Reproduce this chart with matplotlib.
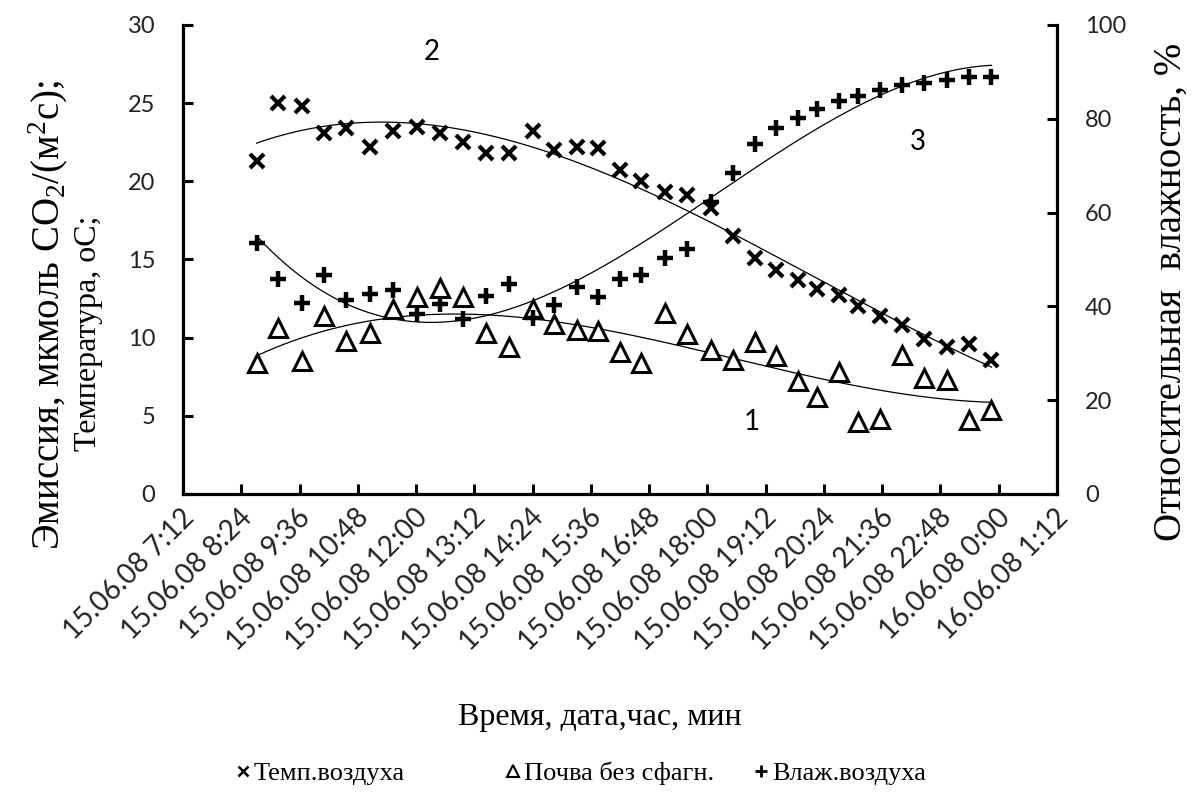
import numpy as np
import pandas as pd
import matplotlib
matplotlib.use("Agg")
import matplotlib.pyplot as plt
import matplotlib.dates as mdates
from matplotlib.lines import Line2D
from matplotlib.transforms import ScaledTranslation

plt.rcParams["mathtext.fontset"] = "custom"
plt.rcParams["mathtext.rm"] = "Liberation Serif"
plt.rcParams["mathtext.it"] = "Liberation Serif:italic"

# Measurement times (date, hour:minute)
times = [
    "15.06.08 8:43", "15.06.08 9:10", "15.06.08 9:39", "15.06.08 10:06",
    "15.06.08 10:33", "15.06.08 11:03", "15.06.08 11:32", "15.06.08 12:01",
    "15.06.08 12:29", "15.06.08 12:58", "15.06.08 13:26", "15.06.08 13:55",
    "15.06.08 14:24", "15.06.08 14:51", "15.06.08 15:19", "15.06.08 15:45",
    "15.06.08 16:12", "15.06.08 16:38", "15.06.08 17:07", "15.06.08 17:35",
    "15.06.08 18:04", "15.06.08 18:32", "15.06.08 18:59", "15.06.08 19:25",
    "15.06.08 19:52", "15.06.08 20:16", "15.06.08 20:42", "15.06.08 21:06",
    "15.06.08 21:33", "15.06.08 22:01", "15.06.08 22:28", "15.06.08 22:56",
    "15.06.08 23:23", "15.06.08 23:51",
]

# Air temperature, oC
temp_air = [
    21.3, 25.0, 24.8, 23.1, 23.4, 22.2, 23.2, 23.5, 23.1, 22.5,
    21.8, 21.8, 23.2, 22.0, 22.2, 22.1, 20.7, 20.0, 19.3, 19.1,
    18.3, 16.5, 15.1, 14.3, 13.7, 13.1, 12.7, 12.0, 11.4, 10.8,
    9.9, 9.4, 9.6, 8.6,
]

# CO2 emission from soil without sphagnum, umol CO2/(m2 s)
soil_flux = [
    8.4, 10.6, 8.5, 11.4, 9.8, 10.3, 11.8, 12.6, 13.2, 12.6,
    10.3, 9.4, 11.85, 10.85, 10.5, 10.4, 9.1, 8.4, 11.6, 10.25,
    9.2, 8.55, 9.7, 8.8, 7.2, 6.2, 7.8, 4.6, 4.8, 8.9,
    7.4, 7.3, 4.7, 5.4,
]

# Relative air humidity, %
humidity = [
    53.5, 45.9, 40.8, 46.7, 41.4, 42.7, 43.4, 38.4, 40.6, 37.4,
    42.3, 44.8, 37.6, 40.2, 44.1, 42.0, 45.9, 46.6, 50.4, 52.3,
    62.2, 68.4, 74.6, 78.1, 80.1, 82.1, 83.8, 84.9, 86.1, 87.2,
    87.7, 88.2, 88.9, 88.9,
]

tick_labels = [
    "15.06.08 7:12", "15.06.08 8:24", "15.06.08 9:36", "15.06.08 10:48",
    "15.06.08 12:00", "15.06.08 13:12", "15.06.08 14:24", "15.06.08 15:36",
    "15.06.08 16:48", "15.06.08 18:00", "15.06.08 19:12", "15.06.08 20:24",
    "15.06.08 21:36", "15.06.08 22:48", "16.06.08 0:00", "16.06.08 1:12",
]

legend_names = ["Темп.воздуха", "Почва без сфагн.", "Влаж.воздуха"]

fmt = "%d.%m.%y %H:%M"
xn = mdates.date2num(pd.to_datetime(times, format=fmt))
tn = mdates.date2num(pd.to_datetime(tick_labels, format=fmt))

serif = "Liberation Serif"
sans = "Lato"

fig = plt.figure(figsize=(11.93, 7.98), dpi=100)
ax = fig.add_axes([0.1534, 0.3810, 0.7326, 0.5877])
ax2 = ax.twinx()

# scatter series
ax.plot(xn, temp_air, linestyle="none", marker="x", ms=10, mew=3.0,
        color="black", zorder=3)
ax.plot(xn, soil_flux, linestyle="none", marker="^", ms=13, mew=2.2,
        mfc="white", mec="black", zorder=3)
ax2.plot(xn, humidity, linestyle="none", marker="+", ms=12, mew=3.2,
         color="black", zorder=3)

# cubic polynomial trend lines
u = xn - xn[0]
ud = np.linspace(u[0], u[-1], 400)
for vals, target in ((temp_air, ax), (soil_flux, ax), (humidity, ax2)):
    c = np.polyfit(u, vals, 3)
    target.plot(ud + xn[0], np.polyval(c, ud), color="black", lw=0.9, zorder=2)

ax.set_xlim(tn[0], tn[-1])
ax.set_ylim(0, 30)
ax2.set_ylim(0, 100)
ax.set_yticks(np.arange(0, 31, 5))
ax2.set_yticks(np.arange(0, 101, 20))
ax.set_xticks(tn)
ax.set_xticklabels(tick_labels, rotation=45, ha="right", va="center",
                   rotation_mode="anchor", fontfamily=sans, fontsize=20)

for a in (ax, ax2):
    a.spines["top"].set_visible(False)
    a.patch.set_visible(False)
ax.spines["right"].set_visible(False)
ax2.spines["left"].set_visible(False)
ax2.spines["bottom"].set_visible(False)
ax.spines["left"].set_linewidth(2.3)
ax.spines["bottom"].set_linewidth(2.3)
ax2.spines["right"].set_linewidth(2.3)

ax.tick_params(axis="y", direction="in", length=7, width=2.2, pad=20,
               labelsize=17)
ax2.tick_params(axis="y", direction="in", length=7, width=2.2, pad=20,
                labelsize=17)
ax.tick_params(axis="x", direction="in", length=7, width=2.2, pad=14)
for lab in ax.get_yticklabels() + ax2.get_yticklabels():
    lab.set_fontfamily(sans)
    lab.set_color("#222222")
shift = ScaledTranslation(7 / 100, 0, fig.dpi_scale_trans)
for lab in ax.get_xticklabels():
    lab.set_transform(lab.get_transform() + shift)
    lab.set_color("#222222")

# curve numbers
ax.text(0.285, 0.942, "2", transform=ax.transAxes, fontfamily=sans,
        fontsize=20, ha="center", va="center")
ax.text(0.841, 0.750, "3", transform=ax.transAxes, fontfamily=sans,
        fontsize=20, ha="center", va="center")
ax.text(0.651, 0.154, "1", transform=ax.transAxes, fontfamily=sans,
        fontsize=20, ha="center", va="center")

# axis titles
fig.text(0.040, 1 - 315 / 798, "Эмиссия, мкмоль CO$_2$/(м$^2$с);",
         rotation=90, ha="center", va="center", fontfamily=serif, fontsize=28)
fig.text(0.074, 1 - 333 / 798, "Температура, оС;", rotation=90,
         ha="center", va="center", fontfamily=serif, fontsize=23)
fig.text(0.982, 1 - 292 / 798, "Относительная  влажность, %", rotation=90,
         ha="center", va="center", fontfamily=serif, fontsize=28)
fig.text(0.503, 1 - 717 / 798, "Время, дата,час, мин",
         ha="center", va="center", fontfamily=serif, fontsize=23)

# legend entries placed individually along the bottom
handles = [
    Line2D([], [], linestyle="none", marker="x", ms=7, mew=1.8, color="black"),
    Line2D([], [], linestyle="none", marker="^", ms=9, mew=1.5,
           mfc="white", mec="black"),
    Line2D([], [], linestyle="none", marker="+", ms=9, mew=2.0, color="black"),
]
for h, name, xl in zip(handles, legend_names, (0.1974, 0.4237, 0.6316)):
    fig.legend([h], [name], loc="center left",
               bbox_to_anchor=(xl, 1 - 773 / 798), frameon=False,
               prop={"family": serif, "size": 19}, handlelength=0.6,
               handletextpad=0.1, borderpad=0, borderaxespad=0)

fig.savefig("out.png", dpi=100)
